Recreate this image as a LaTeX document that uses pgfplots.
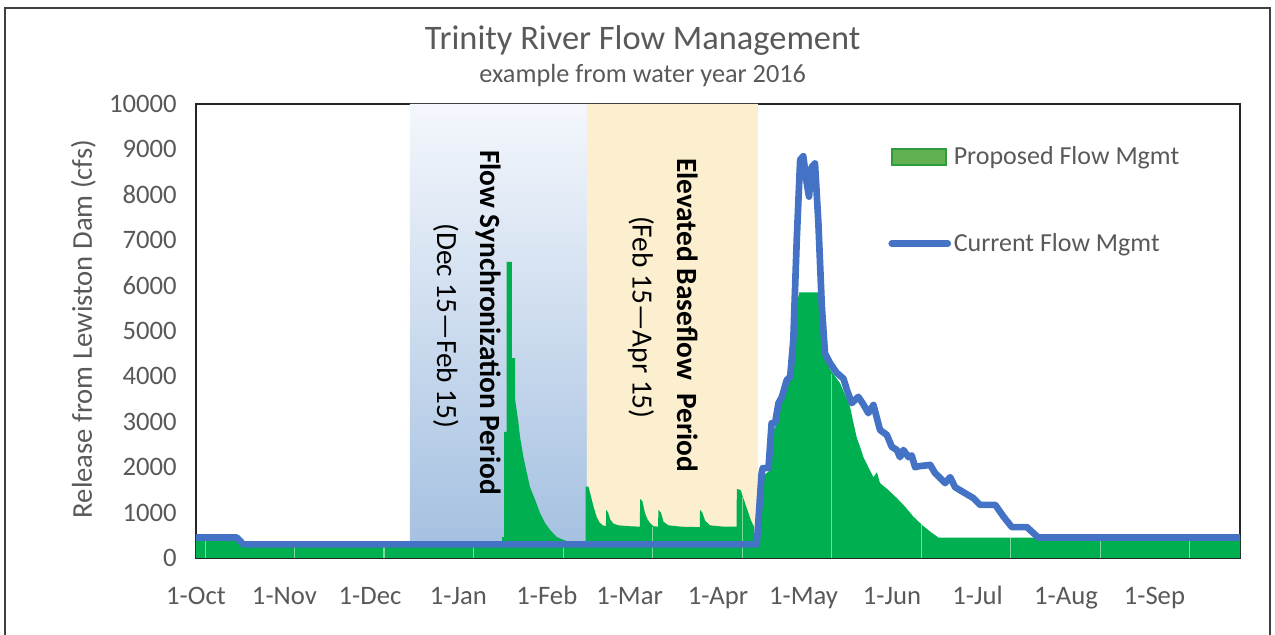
\documentclass[border=0pt]{standalone}
\usepackage{fontspec}
\setmainfont{Carlito}
\usepackage{pgfplots}
\usepackage{pgfplotstable}
\pgfplotsset{compat=1.18}
\definecolor{txtgray}{HTML}{595959}
\definecolor{pgreen}{HTML}{00B050}
\definecolor{cblue}{HTML}{4472C4}
\definecolor{shadetop}{HTML}{F4F7FC}
\definecolor{shadebot}{HTML}{A3BFE0}
\definecolor{cream}{HTML}{FCEFCF}
\definecolor{legfill}{HTML}{62B04F}
\definecolor{legdraw}{HTML}{2F9B3E}
\definecolor{combgreen}{HTML}{7FD8A0}

\pgfplotstableread{
day val
0 450
14.3 450
16.6 300
107.3 300
107.3 460
108.0 460
108.0 2780
108.9 2780
108.9 6520
110.7 6520
110.7 4400
111.9 4400
111.9 3480
113.0 3000
113.6 2670
114.8 2220
116.0 1870
117.1 1560
118.9 1280
120.6 990
122.4 770
124.1 620
126.5 460
128.8 400
131.1 350
133.5 300
136.6 300
136.6 1570
137.6 1570
138.5 1350
139.5 1100
140.5 900
141.5 780
142.6 720
143.7 700
143.8 1060
144.5 1000
145.2 850
146.3 760
148.0 720
152.0 700
155.6 690
155.7 1300
156.5 1250
157.4 990
158.3 850
159.2 770
160.3 700
162.0 690
162.1 1060
163.0 1000
163.9 800
165.6 720
170.0 690
176.6 680
176.7 1060
177.5 1000
178.5 820
180.2 720
185.0 690
189.5 690
189.6 1520
190.9 1500
192.1 1280
193.3 1060
194.5 840
195.6 690
195.9 300
196.6 300
197.5 1050
198.3 1800
200.7 1900
201.8 2850
203.0 2850
204.2 3300
205.4 3450
207.1 3800
208.3 3900
209.4 4600
210.6 5600
211.5 5850
218.0 5850
219.4 5300
220.5 4400
222.3 4150
225.8 3850
229.3 3330
230.5 2970
231.7 2640
232.8 2450
234.0 2220
235.7 2000
237.5 1780
238.7 1890
239.8 1650
242.7 1500
245.7 1320
248.6 1130
251.5 910
254.5 730
257.4 580
260.3 450
366 450
}\proposed

\pgfplotstableread{
day val
0 450
14.3 450
16.6 300
196.6 300
197.5 1130
198.3 1870
198.7 1980
200.7 1980
201.8 2970
203.0 2970
204.2 3410
205.4 3550
207.1 3920
208.3 3990
209.4 4800
210.6 7000
211.8 8770
212.9 8850
214.1 8260
214.9 7960
215.9 8620
217.0 8690
218.2 7370
219.4 5540
220.5 4510
222.3 4290
224.6 4080
227.0 3950
228.2 3700
229.9 3410
232.2 3550
234.0 3380
235.7 3190
237.5 3370
239.8 2820
242.2 2710
243.9 2450
245.7 2380
246.8 2220
248.0 2380
249.8 2220
250.9 2260
252.1 2000
253.3 2020
257.4 2050
259.1 1870
260.9 1760
262.6 1650
264.4 1780
266.1 1560
269.0 1450
272.5 1320
274.9 1170
280.2 1170
283.1 910
286.0 680
291.3 680
295.3 450
366 450
}\current

\begin{document}
\begin{tikzpicture}
\useasboundingbox (0pt,0pt) rectangle (956.25pt,476.25pt);
\draw[black!75, line width=1.5pt] (3.75pt,-2pt) -- (3.75pt,470.25pt) -- (952.5pt,470.25pt) -- (952.5pt,-2pt);
\node[text=txtgray, font=\fontsize{25.8}{30}\selectfont] at (482pt,445.5pt) {Trinity River Flow Management};
\node[text=txtgray, font=\fontsize{19.7}{23}\selectfont] at (482pt,419.25pt) {example from water year 2016};
\node[text=txtgray, rotate=90, font=\fontsize{21.5}{25}\selectfont] at (62.6pt,229.5pt) {Release from Lewiston Dam (cfs)};
\begin{axis}[
  at={(147pt,57.75pt)}, anchor=south west,
  scale only axis, width=783pt, height=340.5pt,
  xmin=0, xmax=366, ymin=0, ymax=10000,
  axis line style={black!85, line width=1.2pt},
  major tick length=0pt,
  xtick={0,31,61,92,123,152,183,213,244,274,305,336},
  xticklabels={1-Oct,1-Nov,1-Dec,1-Jan,1-Feb,1-Mar,1-Apr,1-May,1-Jun,1-Jul,1-Aug,1-Sep},
  ytick={0,1000,2000,3000,4000,5000,6000,7000,8000,9000,10000},
  tick label style={font=\fontsize{20}{24}\selectfont, text=txtgray},
  yticklabel style={xshift=-11pt},
  xticklabel style={text height=14.5pt, text depth=4pt, yshift=-16.7pt},
  /pgf/number format/assume math mode=true,
  /pgf/number format/1000 sep={},
  scaled y ticks=false,
  legend cell align=left,
  legend style={at={(0.663,0.912)}, anchor=north west, draw=none, fill=none,
    inner sep=0pt, row sep=46pt,
    font=\fontsize{19.5}{23}\selectfont, text=txtgray},
]
\addplot[draw=none, top color=shadetop, bottom color=shadebot, forget plot]
  coordinates {(75,0) (75,10000) (137,10000) (137,0)} \closedcycle;
\addplot[draw=none, fill=cream, forget plot]
  coordinates {(137,0) (137,10000) (197,10000) (197,0)} \closedcycle;
\addplot[fill=pgreen, draw=none, mark=none,
  legend image code/.code={\draw[fill=legfill, draw=legdraw, line width=1.5pt] (0pt,-6pt) rectangle (41pt,6pt);}]
  table[x=day, y=val] {\proposed} \closedcycle;
\addlegendentry{Proposed Flow Mgmt}
\addplot[ycomb, combgreen, line width=0.8pt, mark=none, forget plot] coordinates {
(3.2,430) (34.5,290) (65.9,290) (97.3,290) (128.7,380) (160.1,680) (191.5,1350)
(222.8,4050) (254.2,740) (285.6,430) (317.0,430) (348.4,430)};
\addplot[cblue, line width=5pt, line join=round, mark=none,
  legend image code/.code={\draw[cblue, line width=5pt, line cap=round] (0pt,0pt) -- (42pt,0pt);}]
  table[x=day, y=val] {\current};
\addlegendentry{Current Flow Mgmt}
\node[rotate=-90, font=\bfseries\fontsize{22}{26}\selectfont] at (axis cs:102.4,5190) {Flow Synchronization Period};
\node[rotate=-90, font=\fontsize{22}{26}\selectfont] at (axis cs:87.6,5110) {(Dec 15—Feb 15)};
\node[rotate=-90, font=\bfseries\fontsize{22}{26}\selectfont] at (axis cs:172.2,5350) {Elevated Baseflow\ \ Period};
\node[rotate=-90, font=\fontsize{22}{26}\selectfont] at (axis cs:156,5300) {(Feb 15—Apr 15)};
\end{axis}
\end{tikzpicture}
\end{document}
